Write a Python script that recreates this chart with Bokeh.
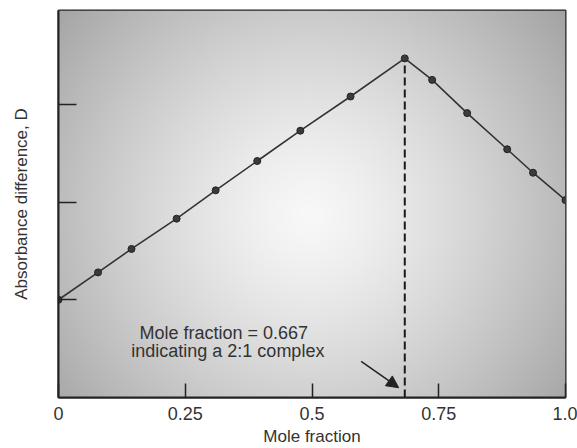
import numpy as np
from bokeh.plotting import figure
from bokeh.models import Range1d, FixedTicker, Label, Arrow, NormalHead
from bokeh.embed import file_html
from bokeh.resources import INLINE

# ---- data ----
mole_fraction = [0.0, 0.078, 0.144, 0.233, 0.310, 0.392, 0.477, 0.576, 0.683, 0.737, 0.806, 0.885, 0.936, 1.0]
absorbance_diff = [1.00, 1.28, 1.52, 1.83, 2.12, 2.42, 2.73, 3.08, 3.47, 3.25, 2.91, 2.54, 2.30, 2.02]
x_ticks = [0, 0.25, 0.5, 0.75, 1.0]
x_tick_labels = ["0", "0.25", "0.5", "0.75", "1.0"]
y_ticks = [1, 2, 3]
annotation_lines = ["Mole fraction = 0.667", "indicating a 2:1 complex"]

FONT = "Liberation Sans"
TXT = "#333333"

p = figure(width=577, height=448, output_backend="svg", toolbar_location=None,
           x_range=Range1d(0, 1.0), y_range=Range1d(0, 3.96),
           min_border_left=58, min_border_right=12, min_border_top=10, min_border_bottom=50)
p.background_fill_color = "#d0d0d0"
p.border_fill_color = "white"
p.grid.visible = False
p.outline_line_color = "#222222"
p.outline_line_width = 2

# radial gradient background (styling)
ny, nx = 194, 254
gy, gx = np.mgrid[0:ny, 0:nx]
px = gx * 507.0 / (nx - 1)
py = (ny - 1 - gy) * 388.0 / (ny - 1)  # pixel from top
r = np.sqrt((px - 250.0) ** 2 + (py - 205.0) ** 2)
t = np.clip(r / 345.0, 0, 1) ** 1.3
c = (248 - (248 - 158) * t).astype(np.uint32)
img = (255 << 24) | (c << 16) | (c << 8) | c
img = img.view(np.uint32).reshape(ny, nx)
p.image_rgba(image=[img], x=0, y=0, dw=1.0, dh=3.96)

# dashed line at the maximum
imax = int(np.argmax(absorbance_diff))
p.line([mole_fraction[imax], mole_fraction[imax]], [0, absorbance_diff[imax]],
       line_color="#1a1a1a", line_width=2, line_dash="8 4")

# main curve
p.line(mole_fraction, absorbance_diff, line_color="#333333", line_width=1.6)
p.scatter(mole_fraction, absorbance_diff, size=7, fill_color="#3a3a3a", line_color="#222222")

# annotation
p.add_layout(Label(x=0.326, y=0.66, text=annotation_lines[0], text_align="center",
                   text_baseline="middle", text_font=FONT, text_font_size="18px", text_color=TXT))
p.add_layout(Label(x=0.334, y=0.475, text=annotation_lines[1], text_align="center",
                   text_baseline="middle", text_font=FONT, text_font_size="18px", text_color=TXT))
p.add_layout(Arrow(x_start=0.597, y_start=0.37, x_end=0.671, y_end=0.10,
                   line_color="#222222", line_width=1.5,
                   end=NormalHead(size=12, fill_color="#222222", line_color="#222222")))

# axes
p.xaxis.ticker = FixedTicker(ticks=x_ticks)
p.xaxis.major_label_overrides = {k: v for k, v in zip(x_ticks, x_tick_labels)}
p.yaxis.ticker = FixedTicker(ticks=y_ticks)
p.yaxis.major_label_overrides = {k: "" for k in y_ticks}
for ax in (p.xaxis, p.yaxis):
    ax.axis_line_color = "#222222"
    ax.axis_line_width = 2
    ax.major_tick_line_color = "#222222"
    ax.major_tick_line_width = 1.5
    ax.major_tick_out = 0
    ax.minor_tick_in = 0
    ax.minor_tick_out = 0
    ax.major_label_text_font = FONT
    ax.major_label_text_color = TXT
    ax.axis_label_text_font = FONT
    ax.axis_label_text_color = TXT
    ax.axis_label_text_font_style = "normal"
p.xaxis.major_tick_in = 14
p.yaxis.major_tick_in = 18
p.xaxis.major_label_text_font_size = "18px"
p.xaxis.major_label_standoff = 9
p.xaxis.axis_label = "Mole fraction"
p.xaxis.axis_label_text_font_size = "17px"
p.xaxis.axis_label_standoff = 4
p.yaxis.major_label_standoff = 0
p.yaxis.axis_label = "Absorbance difference, D"
p.yaxis.axis_label_text_font_size = "17px"
p.yaxis.axis_label_standoff = 28

open("out.html", "w").write(file_html(p, INLINE))
